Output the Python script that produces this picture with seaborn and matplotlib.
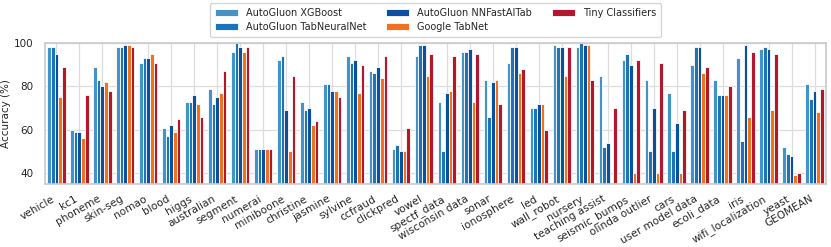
import numpy as np
import pandas as pd
import matplotlib
matplotlib.use("Agg")
import matplotlib.pyplot as plt
import seaborn as sns

datasets = ["vehicle", "kc1", "phoneme", "skin-seg", "nomao", "blood", "higgs",
            "australian", "segment", "numerai", "miniboone", "christine", "jasmine",
            "sylvine", "ccfraud", "clickpred", "vowel", "spectf_data", "wisconsin data",
            "sonar", "ionosphere", "led", "wall_robot", "nursery", "teaching assist",
            "seismic_bumps", "olinda outlier", "cars", "user model data", "ecoli_data",
            "iris", "wifi_localization", "yeast", "GEOMEAN"]

series_names = ["AutoGluon XGBoost", "AutoGluon TabNeuralNet", "AutoGluon NNFastAITab",
                "Google TabNet", "Tiny Classifiers"]

xgboost = [98, 60, 89, 98, 91, 61, 73, 79, 96, 51, 92, 73, 81, 94, 87, 51, 94, 73, 96,
           83, 91, 70, 99, 98, 85, 92, 83, 77, 90, 83, 93, 97, 52, 81]
tabneuralnet = [98, 59, 83, 98, 93, 57, 73, 72, 100, 51, 94, 69, 81, 91, 86, 53, 99, 50, 96,
                66, 98, 70, 98, 100, 52, 95, 50, 50, 98, 76, 55, 98, 49, 74]
nnfastaitab = [95, 59, 80, 99, 93, 62, 76, 75, 98, 51, 69, 70, 78, 92, 89, 50, 99, 77, 97,
               82, 98, 72, 98, 99, 54, 90, 70, 63, 98, 76, 99, 97, 48, 78]
google_tabnet = [75, 56, 82, 99, 95, 59, 72, 77, 96, 51, 50, 62, 78, 77, 84, 50, 85, 78, 73,
                 83, 86, 72, 85, 99, np.nan, 40, 40, 40, 86, 76, 66, 69, 39, 68]
tiny_classifiers = [89, 76, 78, 98, 91, 65, 66, 87, 98, 51, 85, 64, 75, 90, 94, 61, 95, 94, 95,
                    72, 88, 60, 98, 83, 70, 92, 91, 69, 89, 80, 96, 95, 40, 79]

colors = ["#4393c9", "#2171b5", "#08519c", "#f5701a", "#b2182b"]

values = [xgboost, tabneuralnet, nnfastaitab, google_tabnet, tiny_classifiers]
rows = []
for name, vals in zip(series_names, values):
    for d, v in zip(datasets, vals):
        rows.append({"dataset": d, "model": name, "accuracy": v})
df = pd.DataFrame(rows)

sns.set_theme(style="whitegrid")
plt.rcParams["font.family"] = ["DejaVu Sans"]

fig = plt.figure(figsize=(8.31, 2.47), dpi=100)
ax = fig.add_axes([0.054, 0.255, 0.940, 0.571])

sns.barplot(data=df, x="dataset", y="accuracy", hue="model",
            order=datasets, hue_order=series_names, palette=colors,
            saturation=1, width=0.8, edgecolor="white", linewidth=0.6,
            ax=ax, errorbar=None)

ax.set_ylim(35, 100)
ax.set_yticks([40, 60, 80, 100])
ax.set_xlim(-0.5, len(datasets) - 0.5)
ax.set_xlabel("")
ax.set_ylabel("Accuracy (%)", fontsize=7.5, labelpad=2)
ax.tick_params(axis="y", labelsize=7.5, pad=2)
ax.tick_params(axis="x", labelsize=7.6, pad=1)
plt.setp(ax.get_xticklabels(), rotation=30, ha="right", rotation_mode="default")
ax.grid(True, axis="both", color="#dddddd", linewidth=0.9)
for s in ax.spines.values():
    s.set_color("#cccccc")

leg = ax.legend(loc="lower center", bbox_to_anchor=(0.5, 1.01), ncol=3,
                fontsize=7, frameon=True, handlelength=2.4, handleheight=0.7,
                columnspacing=2.0, borderpad=0.5, labelspacing=0.4)
leg.get_frame().set_edgecolor("#cccccc")

fig.savefig("out.png", dpi=100)
